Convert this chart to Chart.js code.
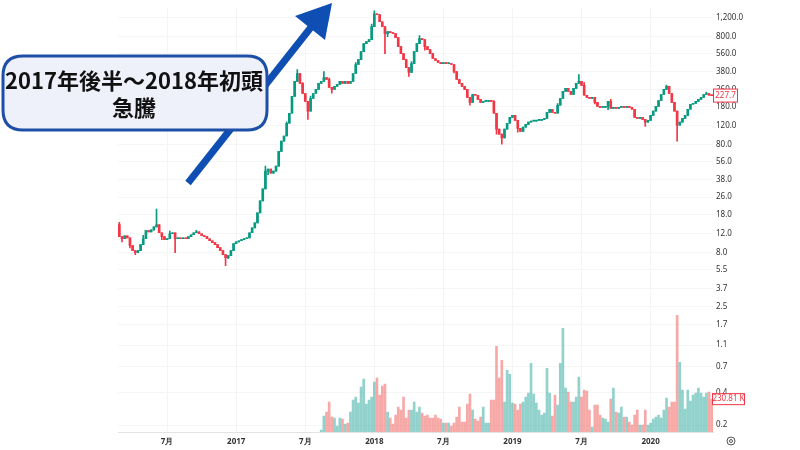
<!DOCTYPE html>
<html>
<head>
<meta charset="utf-8">
<script src="https://cdn.jsdelivr.net/npm/chart.js@4.4.1/dist/chart.umd.min.js"></script>
<style>
  html, body { margin: 0; padding: 0; background: #fff; }
  #wrap { width: 800px; height: 450px; position: relative; }
</style>
</head>
<body>
<div id="wrap"><canvas id="priceChart"></canvas></div>
<script>
// weekly closes, from early Mar 2016 to early Jun 2020
const closes = [
  11.2, 10.7, 11.4, 10.9, 9.22, 8.29, 7.94, 8.29, 9.42, 10.7,
  12.7, 12.4, 12.95, 13.8, 14.4, 12.15, 11.2, 10.5, 10.7, 11.9,
  12.15, 10.7, 10.9, 10.7, 10.9, 10.7, 11.2, 11.65, 12.15, 12.4,
  11.9, 11.4, 11.2, 10.7, 10.25, 9.83, 9.42, 8.84, 8.29, 7.61,
  7.14, 7.45, 8.29, 9.62, 10.0, 10.25, 10.5, 10.7, 10.9, 12.15,
  13.5, 15.0, 18.6, 24, 31, 45.4, 47.4, 43.5, 45.4, 50.5,
  69, 86, 96, 126, 156, 224, 308, 365, 295, 238,
  201, 163, 214, 238, 260, 295, 308, 335, 321, 271,
  260, 277, 289, 308, 295, 308, 295, 308, 365, 442,
  491, 582, 690, 720, 752, 991, 1307, 1279, 1102, 991,
  854, 891, 873, 854, 785, 648, 558, 491, 414, 373,
  451, 582, 690, 768, 752, 648, 608, 558, 502, 481,
  461, 451, 461, 451, 451, 442, 381, 321, 295, 277,
  260, 219, 197, 233, 229, 210, 197, 201, 201, 205,
  201, 156, 111, 100, 92, 111, 126, 143, 149, 134,
  113, 106, 116, 123, 129, 132, 132, 134, 134, 137,
  140, 159, 170, 159, 156, 185, 214, 249, 265, 249,
  233, 265, 295, 308, 283, 229, 219, 214, 219, 197,
  181, 177, 177, 181, 201, 173, 177, 173, 177, 181,
  177, 181, 177, 170, 143, 140, 143, 137, 129, 134,
  149, 163, 181, 205, 233, 260, 277, 238, 197, 163,
  121, 129, 140, 149, 170, 189, 193, 201, 210, 219,
  233, 238, 229, 227.7
];
const firstOpen = 14.5;

// wicks that reach past the body: [week, price]
const highWicks = [
  [0, 15.2], [9, 11.5], [14, 20.2], [15, 14.5], [19, 12.6], [29, 12.8],
  [55, 50.5], [63, 130], [67, 397], [69, 300], [72, 225], [77, 381], [79, 330],
  [89, 460], [95, 1050], [96, 1393], [98, 1290], [110, 470], [113, 818],
  [131, 232], [141, 205], [165, 192], [173, 357], [175, 300], [185, 210],
  [206, 285], [221, 245]
];
const lowWicks = [
  [1, 10.0], [4, 8.8], [6, 7.6], [13, 12.8], [16, 10.5], [21, 7.94],
  [40, 6.03], [41, 7.0], [56, 42], [62, 90], [71, 137], [80, 240],
  [100, 558], [101, 800], [109, 342], [115, 600], [126, 370], [132, 185],
  [142, 100], [144, 80.6], [150, 104], [161, 150], [166, 200], [179, 190],
  [184, 168], [198, 118], [200, 140], [210, 86], [213, 140]
];

// volume in thousands, first traded week = 76
const volStart = 76;
const volumes = [
  14, 112, 140, 210, 105, 98, 42, 98, 91, 56,
  63, 140, 224, 245, 203, 315, 371, 196, 224, 245,
  350, 378, 259, 322, 336, 140, 98, 56, 119, 175,
  154, 245, 98, 154, 154, 210, 140, 175, 133, 112,
  119, 98, 98, 119, 98, 91, 63, 63, 63, 42,
  63, 105, 175, 70, 70, 196, 266, 154, 91, 77,
  105, 175, 63, 63, 224, 224, 602, 378, 504, 210,
  434, 406, 203, 196, 154, 196, 210, 245, 273, 483,
  266, 203, 154, 119, 133, 448, 273, 112, 259, 189,
  483, 728, 308, 280, 210, 210, 245, 385, 245, 294,
  287, 154, 35, 189, 189, 119, 98, 91, 70, 231,
  308, 140, 133, 175, 105, 105, 70, 49, 119, 154,
  49, 49, 154, 49, 63, 91, 105, 119, 98, 154,
  238, 175, 210, 210, 819, 490, 294, 161, 294, 217,
  259, 273, 308, 273, 245, 273, 280, 230.81
];

const tickWeeks = [18, 44, 70, 96, 122, 148, 174, 200];
const tickText = ['7月', '2017', '7月', '2018', '7月', '2019', '7月', '2020'];
const priceTicks = [1200, 800, 560, 380, 260, 180, 120, 80, 56, 38, 26, 18, 12, 8, 5.5, 3.7, 2.5, 1.7, 1.1, 0.7, 0.4, 0.2];

const UP = '#089981';
const DOWN = '#f23645';
const UP_VOL = 'rgba(38,166,154,0.5)';
const DOWN_VOL = 'rgba(239,83,80,0.5)';

const opens = closes.map((c, i) => i === 0 ? firstOpen : closes[i - 1]);
const highs = closes.map((c, i) => Math.max(c, opens[i]));
const lows = closes.map((c, i) => Math.min(c, opens[i]));
highWicks.forEach(([i, v]) => { highs[i] = Math.max(highs[i], v); });
lowWicks.forEach(([i, v]) => { lows[i] = Math.min(lows[i], v); });

const labels = closes.map((c, i) => i);
const isUp = closes.map((c, i) => c >= opens[i]);
const candleColors = isUp.map(u => u ? UP : DOWN);
const volData = closes.map((c, i) => i >= volStart ? volumes[i - volStart] : null);
const volColors = isUp.map(u => u ? UP_VOL : DOWN_VOL);

const lastClose = closes[closes.length - 1];
const lastVol = volumes[volumes.length - 1];

function roundRect(ctx, x, y, w, h, r) {
    ctx.beginPath();
    ctx.moveTo(x + r, y);
    ctx.lineTo(x + w - r, y);
    ctx.quadraticCurveTo(x + w, y, x + w, y + r);
    ctx.lineTo(x + w, y + h - r);
    ctx.quadraticCurveTo(x + w, y + h, x + w - r, y + h);
    ctx.lineTo(x + r, y + h);
    ctx.quadraticCurveTo(x, y + h, x, y + h - r);
    ctx.lineTo(x, y + r);
    ctx.quadraticCurveTo(x, y, x + r, y);
    ctx.closePath();
}

// arrow, callout and the last value boxes
const overlay = {
    id: 'overlay',
    afterDraw(chart) {
        const ctx = chart.ctx;
        ctx.save();

        // arrow
        ctx.strokeStyle = '#0f4fb3';
        ctx.fillStyle = '#0f4fb3';
        ctx.lineWidth = 7;
        ctx.beginPath();
        ctx.moveTo(188, 183);
        ctx.lineTo(312, 26);
        ctx.stroke();
        ctx.beginPath();
        ctx.moveTo(332, 3);
        ctx.lineTo(295, 16);
        ctx.lineTo(325, 40);
        ctx.closePath();
        ctx.fill();

        // callout
        roundRect(ctx, 3, 56, 264, 74, 20);
        ctx.fillStyle = '#eef0fa';
        ctx.fill();
        ctx.lineWidth = 3;
        ctx.strokeStyle = '#1c4fa5';
        ctx.stroke();
        ctx.fillStyle = '#111';
        ctx.textAlign = 'center';
        ctx.textBaseline = 'middle';
        ctx.font = "bold 22px 'Noto Sans CJK JP'";
        ctx.fillText('2017年後半～2018年初頭', 134, 81);
        ctx.fillText('急騰', 134, 108);

        // last price box
        const yP = chart.scales.y.getPixelForValue(lastClose);
        ctx.font = "8px 'Noto Sans'";
        ctx.lineWidth = 1;
        ctx.fillStyle = '#fff';
        ctx.fillRect(713.5, yP - 6.5, 24, 13);
        ctx.strokeStyle = DOWN;
        ctx.strokeRect(713.5, yP - 6.5, 24, 13);
        ctx.fillStyle = DOWN;
        ctx.fillText(lastClose.toFixed(1), 725.5, yP);

        // last volume box
        const yV = chart.scales.y2.getPixelForValue(lastVol);
        ctx.fillStyle = '#fff';
        ctx.fillRect(712.5, yV - 5.5, 32, 11);
        ctx.strokeRect(712.5, yV - 5.5, 32, 11);
        ctx.fillStyle = DOWN;
        ctx.fillText(lastVol.toFixed(2) + ' K', 728.5, yV);

        // small settings icon
        ctx.strokeStyle = '#555';
        ctx.beginPath();
        ctx.arc(731, 441, 4, 0, Math.PI * 2);
        ctx.stroke();
        ctx.beginPath();
        ctx.arc(731, 441, 1.5, 0, Math.PI * 2);
        ctx.stroke();

        ctx.restore();
    }
};

Chart.defaults.font.family = "'Noto Sans', sans-serif";
Chart.defaults.font.size = 8;
Chart.defaults.color = '#333';

new Chart(document.getElementById('priceChart'), {
    type: 'bar',
    data: {
        labels: labels,
        datasets: [
            {
                label: 'body',
                data: closes.map((c, i) => [opens[i], c]),
                backgroundColor: candleColors,
                barThickness: 2,
                minBarLength: 1,
                grouped: false,
                yAxisID: 'y',
                order: 1
            },
            {
                label: 'wick',
                data: closes.map((c, i) => [lows[i], highs[i]]),
                backgroundColor: candleColors,
                barThickness: 1,
                grouped: false,
                yAxisID: 'y',
                order: 2
            },
            {
                label: 'volume',
                data: volData,
                backgroundColor: volColors,
                barThickness: 2,
                grouped: false,
                yAxisID: 'y2',
                order: 3
            }
        ]
    },
    options: {
        responsive: true,
        maintainAspectRatio: false,
        animation: false,
        layout: { padding: { left: 118, right: 0, top: 0, bottom: 0 } },
        plugins: {
            legend: { display: false },
            tooltip: { enabled: false }
        },
        scales: {
            x: {
                grid: { color: '#f4f4f4', drawTicks: false, offset: false },
                border: { color: '#e2e2e2' },
                afterBuildTicks: (s) => { s.ticks = tickWeeks.map(v => ({ value: v })); },
                afterFit: (s) => { s.height = 18; },
                ticks: {
                    autoSkip: false,
                    maxRotation: 0,
                    padding: 5,
                    color: '#333',
                    font: (ctx) => ({
                        size: 8,
                        weight: ctx.tick && /^\d/.test(ctx.tick.label) ? 'bold' : 'normal'
                    }),
                    callback: (v) => tickText[tickWeeks.indexOf(v)] || ''
                }
            },
            y: {
                type: 'logarithmic',
                position: 'right',
                min: 0.1723,
                max: 1484,
                grid: { color: '#f6f6f6', drawTicks: false },
                border: { display: false },
                afterBuildTicks: (s) => { s.ticks = priceTicks.map(v => ({ value: v })); },
                afterFit: (s) => { s.width = 87; },
                ticks: {
                    padding: 3,
                    color: '#333',
                    callback: (v) => Number(v).toLocaleString('en-US', { minimumFractionDigits: 1, maximumFractionDigits: 1 })
                }
            },
            y2: {
                display: false,
                min: 0,
                max: 2980
            }
        }
    },
    plugins: [overlay]
});
</script>
</body>
</html>
